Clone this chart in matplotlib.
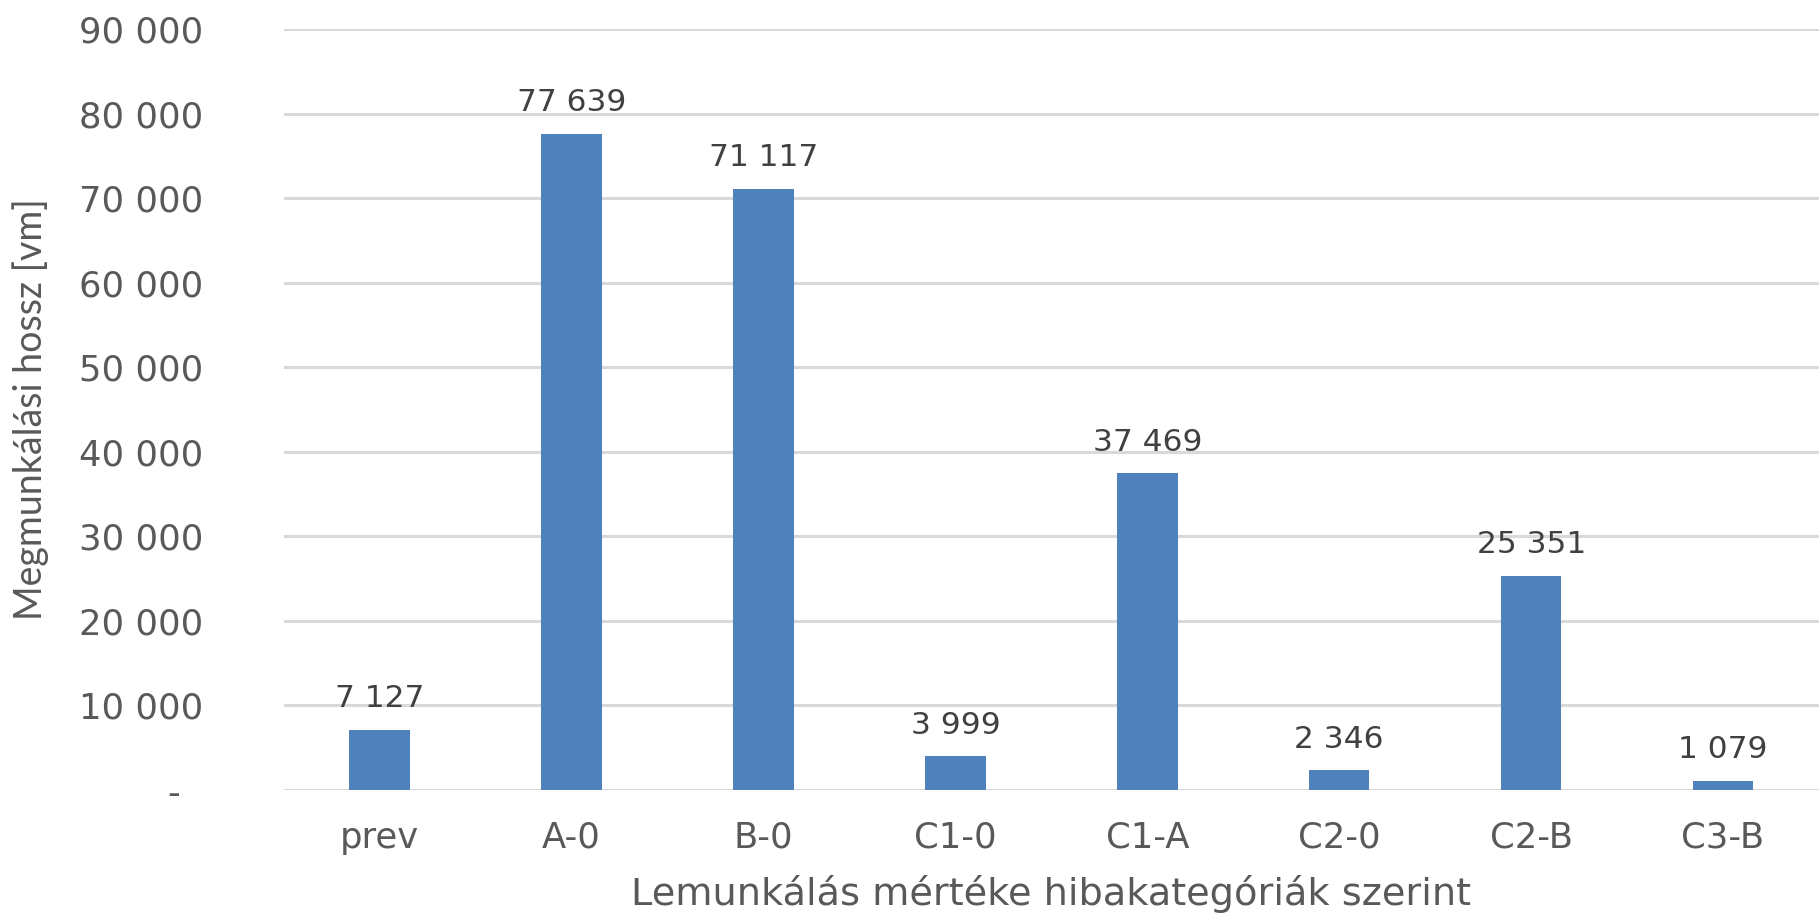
import matplotlib.pyplot as plt
from matplotlib.ticker import FuncFormatter, MultipleLocator

# data
categories = ["prev", "A-0", "B-0", "C1-0", "C1-A", "C2-0", "C2-B", "C3-B"]
lengths = [7127, 77639, 71117, 3999, 37469, 2346, 25351, 1079]

# horizontal text in the original is stretched wide, so use a wide face for it
plt.rcParams['font.family'] = ['DejaVu Sans']


def fmt_thousands(v, pos=None):
    # excel accounting style: space as thousands separator, zero shown as "-"
    if v == 0:
        return "-  "
    return "{:,.0f}".format(v).replace(",", " ")


fig = plt.figure(figsize=(18.19, 9.13), dpi=100)
ax = fig.add_axes([0.156, 0.1347, 0.844, 0.8333])

x = range(len(categories))
bars = ax.bar(x, lengths, width=0.315, color="#4f81bd", zorder=3)

for b, v in zip(bars, lengths):
    ax.annotate(fmt_thousands(v), (b.get_x() + b.get_width() / 2, v),
                xytext=(0, 12), textcoords="offset points",
                ha="center", va="bottom", fontsize=22.5, color="#404040")

ax.set_xlim(-0.5, len(categories) - 0.5)
ax.set_ylim(0, 90000)
ax.yaxis.set_major_locator(MultipleLocator(10000))
ax.yaxis.set_major_formatter(FuncFormatter(fmt_thousands))
ax.set_xticks(list(x))
ax.set_xticklabels(categories)

ax.grid(axis="y", color="#d9d9d9", linewidth=2.2, zorder=0)
ax.set_axisbelow(True)
for s in ax.spines.values():
    s.set_visible(False)

ax.tick_params(axis="y", length=0, pad=58, labelsize=25.5, labelcolor="#595959")
ax.tick_params(axis="x", length=0, pad=22, labelsize=25.5, labelcolor="#595959")

ax.set_xlabel("Lemunkálás mértéke hibakategóriák szerint", fontsize=27.5, color="#595959")
ax.xaxis.set_label_coords(0.5, -0.137)
ax.xaxis.label.set_va("center")
ax.set_ylabel("Megmunkálási hossz [vm]", fontsize=27, color="#595959",
              family=["Lato", "DejaVu Sans"])
ax.yaxis.set_label_coords(-0.165, 0.5)
ax.yaxis.label.set_va("center")

fig.savefig("out.png", dpi=100)
